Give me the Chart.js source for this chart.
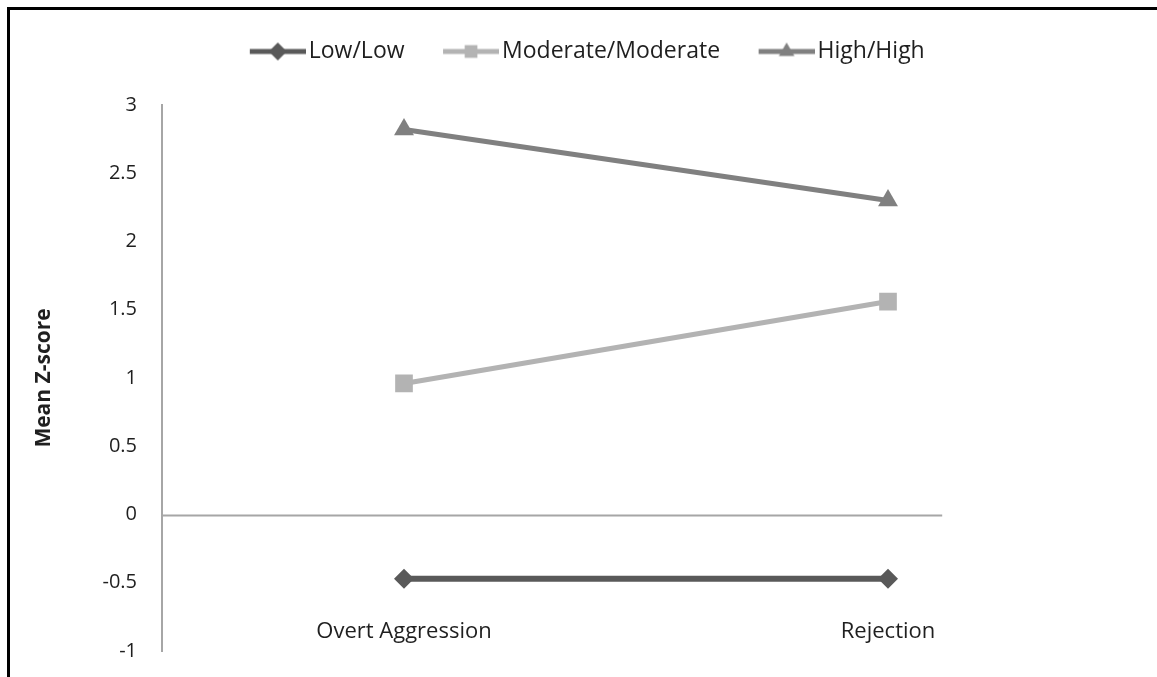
<!DOCTYPE html>
<html>
<head>
<meta charset="utf-8">
<script src="https://cdn.jsdelivr.net/npm/chart.js@4"></script>
<style>
  html, body { margin: 0; padding: 0; background: #fff; overflow: hidden; }
  #wrap { position: relative; width: 1157px; height: 677px; }
  #frame {
    position: absolute; left: 7px; top: 7px; width: 1400px; height: 900px;
    border: 3px solid #000; pointer-events: none;
  }
</style>
</head>
<body>
<div id="wrap">
  <canvas id="chart" width="1157" height="677"></canvas>
  <div id="frame"></div>
</div>
<script>
const categories = ["Overt Aggression", "Rejection"];
const lowLow = [-0.47, -0.47];
const moderateModerate = [0.96, 1.56];
const highHigh = [2.82, 2.3];
const yMin = -1;
const yMax = 3;
const yStep = 0.5;

const darkGrey = "#595959";
const lightGrey = "#b3b3b3";
const midGrey = "#808080";
const axisGrey = "#a6a6a6";
const textColor = "#1f1f1f";
const fontFamily = "'Open Sans', sans-serif";

// legend symbol: short line with the marker on it, Excel style
function legendMarker(color, style) {
  const c = document.createElement("canvas");
  c.width = 93;
  c.height = 26;
  const ctx = c.getContext("2d");
  ctx.strokeStyle = color;
  ctx.lineWidth = 5;
  ctx.beginPath();
  ctx.moveTo(37, 13);
  ctx.lineTo(93, 13);
  ctx.stroke();
  ctx.fillStyle = color;
  Chart.helpers.drawPoint(ctx, { pointStyle: style, radius: 9, borderWidth: 0, rotation: 0 }, 65, 13);
  return c;
}

const legendSpacer = {
  id: "legendSpacer",
  beforeInit(chart) {
    const fit = chart.legend.fit;
    chart.legend.fit = function () {
      fit.bind(chart.legend)();
      this.height = 75;
    };
  }
};

const zeroLine = {
  id: "zeroLine",
  beforeDatasetsDraw(chart) {
    const { ctx, chartArea, scales } = chart;
    const y = Math.round(scales.y.getPixelForValue(0)) + 0.5;
    ctx.save();
    ctx.strokeStyle = axisGrey;
    ctx.lineWidth = 2;
    ctx.beginPath();
    ctx.moveTo(chartArea.left, y);
    ctx.lineTo(chartArea.left + (chartArea.right - chartArea.left) * 0.806, y);
    ctx.stroke();
    ctx.restore();
  }
};

const series = [
  { label: "Low/Low", data: lowLow, color: darkGrey, style: "rectRot", radius: 10, width: 6 },
  { label: "Moderate/Moderate", data: moderateModerate, color: lightGrey, style: "rect", radius: 12.5, width: 5 },
  { label: "High/High", data: highHigh, color: midGrey, style: "triangle", radius: 11.5, width: 5 }
];

new Chart(document.getElementById("chart"), {
  type: "line",
  plugins: [legendSpacer, zeroLine],
  data: {
    labels: categories,
    datasets: series.map((s) => ({
      label: s.label,
      data: s.data,
      borderColor: s.color,
      backgroundColor: s.color,
      borderWidth: s.width,
      pointStyle: s.style,
      pointRadius: s.radius,
      pointBorderWidth: 0,
      pointBackgroundColor: s.color,
      tension: 0
    }))
  },
  options: {
    responsive: false,
    animation: false,
    layout: { padding: { top: 30, left: 16, right: 27, bottom: 26 } },
    plugins: {
      tooltip: { enabled: false },
      legend: {
        position: "top",
        labels: {
          color: textColor,
          font: { family: fontFamily, size: 23 },
          usePointStyle: true,
          pointStyleWidth: 76,
          padding: 10,
          generateLabels() {
            return series.map((s, i) => ({
              text: s.label,
              fillStyle: s.color,
              strokeStyle: s.color,
              lineWidth: 0,
              pointStyle: legendMarker(s.color, s.style),
              fontColor: textColor,
              datasetIndex: i,
              hidden: false
            }));
          }
        }
      }
    },
    scales: {
      x: {
        type: "category",
        offset: true,
        position: { y: -0.70 },
        grid: { display: false },
        border: { display: false },
        ticks: { color: textColor, font: { family: fontFamily, size: 22 }, padding: 0, maxRotation: 0 }
      },
      y: {
        min: yMin,
        max: yMax,
        grid: { display: false },
        border: { display: true, color: axisGrey, width: 2 },
        ticks: {
          stepSize: yStep,
          color: textColor,
          font: { family: fontFamily, size: 20 },
          padding: 17,
          callback: (v) => String(v)
        },
        title: {
          display: true,
          text: "Mean Z-score",
          color: textColor,
          font: { family: fontFamily, size: 21, weight: "bold" },
          padding: { top: 15, bottom: 0 }
        },
        afterFit(scale) {
          scale.width = 146;
          scale.paddingBottom = 0;
        }
      }
    }
  }
});
</script>
</body>
</html>
